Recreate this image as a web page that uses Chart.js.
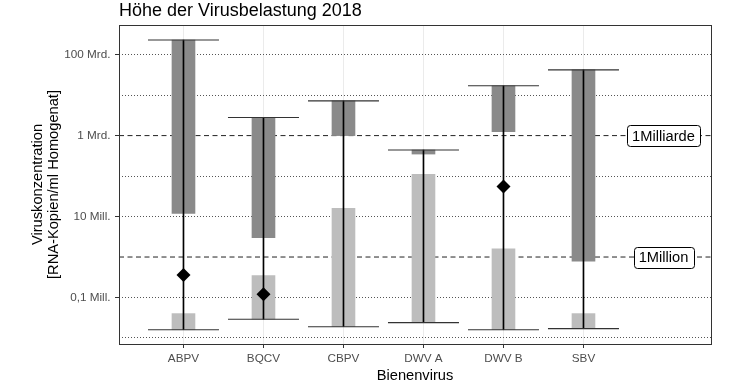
<!DOCTYPE html>
<html>
<head>
<meta charset="utf-8">
<title>Höhe der Virusbelastung 2018</title>
<script src="https://cdn.jsdelivr.net/npm/chart.js@4.4.0/dist/chart.umd.min.js"></script>
<style>
  html, body { margin: 0; padding: 0; background: #fff; }
  #wrap { width: 741px; height: 392px; }
</style>
</head>
<body>
<div id="wrap"><canvas id="virusChart" width="741" height="392"></canvas></div>
<script>
// --- Werte ---
const categories = ['ABPV', 'BQCV', 'CBPV', 'DWV A', 'DWV B', 'SBV'];
const minValues = [1.6e4, 2.9e4, 1.9e4, 2.4e4, 1.6e4, 1.7e4];
const lightTop = [4.0e4, 3.5e5, 1.6e7, 1.1e8, 1.6e6, 4.0e4];
const darkBottom = [1.2e7, 3.0e6, 1.0e9, 3.5e8, 1.25e9, 7.9e5];
const maxValues = [2.3e11, 2.8e9, 7.2e9, 4.4e8, 1.7e10, 4.2e10];
const diamondValues = [3.6e5, 1.2e5, null, null, 5.5e7, null];

const yTickValues = [1e4, 1e5, 1e6, 1e7, 1e8, 1e9, 1e10, 1e11];
const yTickLabels = ['', '0,1 Mill.', '', '10 Mill.', '', '1 Mrd.', '', '100 Mrd.'];

const refValues = [1e9, 1e6];
const refLabels = ['1Milliarde', '1Million'];

// --- Achsenbereiche ---
const X_MIN = 0.194, X_MAX = 7.594, LABEL_X = 7;
const Y_MIN = 7.1e3, Y_MAX = 5.4e11;

const FONT = '"Liberation Sans", Arial, sans-serif';
Chart.defaults.font.family = FONT;

const xs = categories.map((c, i) => i + 1);

// --- Rahmen + Beschriftungen der Referenzlinien ---
const frameAndLabels = {
  id: 'frameAndLabels',
  afterDatasetsDraw(chart) {
    const { ctx, chartArea: a, scales: { x, y } } = chart;
    ctx.save();
    ctx.strokeStyle = '#333';
    ctx.lineWidth = 1;
    ctx.strokeRect(a.left + 0.5, a.top + 0.5, a.width, a.height);

    ctx.font = '14.67px ' + FONT;
    ctx.textAlign = 'center';
    ctx.textBaseline = 'middle';
    refValues.forEach((v, i) => {
      const cx = x.getPixelForValue(LABEL_X);
      const cy = y.getPixelForValue(v);
      const w = ctx.measureText(refLabels[i]).width + 10;
      const h = 21;
      ctx.beginPath();
      ctx.roundRect(Math.round(cx - w / 2) + 0.5, Math.round(cy - h / 2) + 0.5, Math.round(w), h, 3);
      ctx.fillStyle = '#fff';
      ctx.fill();
      ctx.strokeStyle = '#000';
      ctx.stroke();
      ctx.fillStyle = '#000';
      ctx.fillText(refLabels[i], cx, cy + 1);
    });
    ctx.restore();
  }
};

const datasets = [
  {
    type: 'scatter',
    label: 'Wert',
    data: xs.map((x, i) => ({ x, y: diamondValues[i] })).filter(p => p.y !== null),
    pointStyle: 'rectRot',
    pointRadius: 7,
    pointHoverRadius: 7,
    pointBackgroundColor: '#000',
    pointBorderColor: '#000',
    pointBorderWidth: 0,
    order: 0
  },
  {
    type: 'scatter',
    label: 'Min/Max',
    data: [
      ...xs.map((x, i) => ({ x, y: minValues[i] })),
      ...xs.map((x, i) => ({ x, y: maxValues[i] }))
    ],
    pointStyle: 'line',
    pointRadius: 35.5,
    pointHoverRadius: 35.5,
    pointBorderColor: '#333',
    pointBorderWidth: 1.1,
    order: 1
  },
  {
    type: 'bar',
    label: 'Spannweite',
    data: xs.map((x, i) => ({ x, y: [minValues[i], maxValues[i]] })),
    backgroundColor: '#000',
    barThickness: 1,
    grouped: false,
    order: 2
  },
  {
    type: 'bar',
    label: 'oben',
    data: xs.map((x, i) => ({ x, y: [darkBottom[i], maxValues[i]] })),
    backgroundColor: '#8a8a8a',
    barThickness: 23,
    grouped: false,
    order: 4
  },
  {
    type: 'bar',
    label: 'unten',
    data: xs.map((x, i) => ({ x, y: [minValues[i], lightTop[i]] })),
    backgroundColor: '#bdbdbd',
    barThickness: 23,
    grouped: false,
    order: 5
  },
  ...refValues.map((v, i) => ({
    type: 'line',
    label: refLabels[i],
    data: [{ x: X_MIN, y: v }, { x: X_MAX, y: v }],
    borderColor: '#222',
    borderWidth: 1,
    borderDash: [5, 3.5],
    pointRadius: 0,
    order: 6
  }))
];

new Chart(document.getElementById('virusChart'), {
  type: 'bar',
  data: { datasets },
  options: {
    responsive: false,
    animation: false,
    layout: { autoPadding: false, padding: { left: 0, right: 30, top: 0, bottom: 0 } },
    plugins: {
      legend: { display: false },
      tooltip: { enabled: false },
      title: {
        display: true,
        text: 'Höhe der Virusbelastung 2018',
        align: 'start',
        fullSize: false,
        color: '#000',
        font: { size: 18, weight: 'normal', lineHeight: 1.1 },
        padding: { top: 1, bottom: 4.2 }
      }
    },
    scales: {
      x: {
        type: 'linear',
        min: X_MIN,
        max: X_MAX,
        offset: false,
        afterBuildTicks: s => { s.ticks = xs.map(v => ({ value: v })); },
        afterFit: s => { s.height = 48; s.paddingLeft = 0; s.paddingRight = 0; },
        ticks: {
          autoSkip: false,
          color: '#4d4d4d',
          font: { size: 11.73 },
          padding: 4,
          maxRotation: 0,
          callback: (v, i) => categories[i]
        },
        grid: { offset: false, color: '#ebebeb', tickColor: '#333', tickLength: 4 },
        border: { display: false },
        title: {
          display: true,
          text: 'Bienenvirus',
          color: '#000',
          font: { size: 14.67 },
          padding: { top: 0, bottom: 7 }
        }
      },
      y: {
        type: 'logarithmic',
        min: Y_MIN,
        max: Y_MAX,
        afterBuildTicks: s => { s.ticks = yTickValues.map(v => ({ value: v })); },
        afterFit: s => { s.width = 119; s.paddingTop = 0; s.paddingBottom = 0; },
        ticks: {
          autoSkip: false,
          color: '#4d4d4d',
          font: { size: 11.73 },
          padding: 4.5,
          callback: (v, i) => yTickLabels[i]
        },
        grid: {
          color: c => refValues.includes(c.tick && c.tick.value) ? 'rgba(0,0,0,0)' : '#555',
          tickColor: c => yTickLabels[c.index] ? '#333' : 'rgba(0,0,0,0)',
          tickLength: 4,
          tickBorderDash: []
        },
        border: { display: false, dash: [1, 2] },
        title: {
          display: true,
          text: ['Viruskonzentration', '[RNA-Kopien/ml Homogenat]'],
          color: '#000',
          font: { size: 14.67, lineHeight: 1.1 },
          padding: { top: 30, bottom: 0 }
        }
      }
    }
  },
  plugins: [frameAndLabels]
});
</script>
</body>
</html>
